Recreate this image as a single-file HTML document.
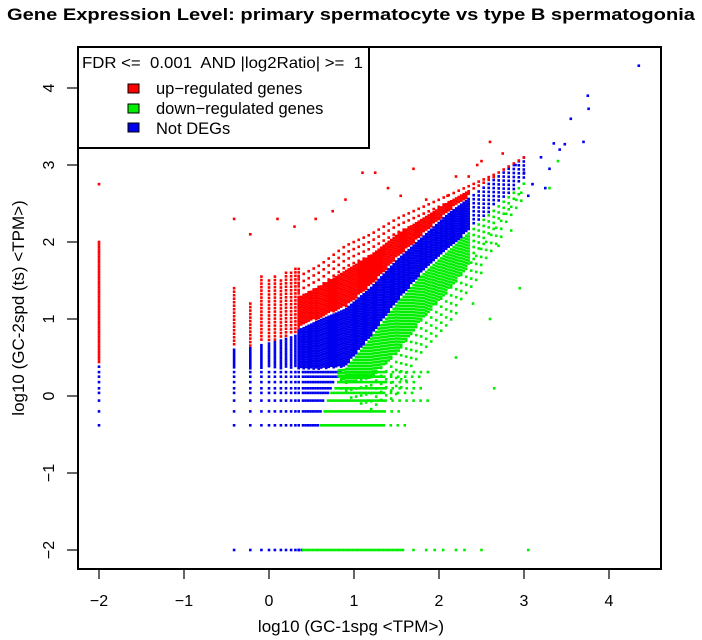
<!DOCTYPE html>
<html><head><meta charset="utf-8">
<style>
html,body{margin:0;padding:0;background:#fff;}
svg{display:block;font-family:"Liberation Sans",Arial,sans-serif;}
</style></head>
<body>
<svg id="chart" width="702" height="640" viewBox="0 0 702 640">
  <text x="351" y="20" text-anchor="middle" font-size="16.5" font-weight="bold" textLength="688" lengthAdjust="spacingAndGlyphs">Gene Expression Level: primary spermatocyte vs type B spermatogonia</text>
  <g id="marks"></g>
  <g id="axes"></g>
  <rect x="78" y="47" width="583" height="522" fill="none" stroke="#000" stroke-width="2"/>
  <g>
    <rect x="78" y="47" width="291" height="101" fill="#fff" stroke="#000" stroke-width="2"/>
    <text x="82" y="68" font-size="16" xml:space="preserve" textLength="281" lengthAdjust="spacingAndGlyphs">FDR &lt;=  0.001  AND |log2Ratio| &gt;=  1</text>
    <rect x="128" y="84" width="11" height="9" fill="#ff0000" stroke="#000"/>
    <text x="156" y="94" font-size="16.5">up−regulated genes</text>
    <rect x="128" y="104" width="11" height="9" fill="#00ee00" stroke="#000"/>
    <text x="156" y="114" font-size="16.5">down−regulated genes</text>
    <rect x="128" y="123" width="11" height="9" fill="#0000ee" stroke="#000"/>
    <text x="156" y="134" font-size="16.5">Not DEGs</text>
  </g>
  <text x="351" y="632" text-anchor="middle" font-size="17">log10 (GC-1spg &lt;TPM&gt;)</text>
  <text transform="translate(24,308) rotate(-90)" text-anchor="middle" font-size="17">log10 (GC-2spd (ts) &lt;TPM&gt;)</text>
</svg>
<script>
const xTicks = [-2,-1,0,1,2,3,4];
const yTicks = [-2,-1,0,1,2,3,4];
// discrete low-x columns
const colX = [-2,-0.41,-0.22,-0.09,0,0.07,0.14,0.2,0.26,0.31,0.35];
const colSplit = [0.38,0.6,0.62,0.66,0.68,0.7,0.72,0.74,0.76,0.78,0.8];
const colTop = [2.0,1.4,1.2,1.55,1.5,1.55,1.5,1.6,1.6,1.65,1.65];
// discrete low-y rows
const rowY = [-0.38,-0.2,-0.06,0.04,0.1,0.18,0.25,0.31];
const rowBlueEnd = [0.58,0.62,0.66,0.7,0.75,0.78,0.82,0.87];
const rowGreenEnd = [1.6,1.55,1.9,1.7,1.8,1.75,1.8,1.9];
// y = -2 row
const bottomRowY = -2;
const bottomBlueStart = -0.4, bottomGreenStart = 0.4, bottomGreenEnd = 1.6;
// main band
const bandX = [0.35,0.6,0.9,1.2,1.5,1.8,2.1,2.4,2.7,3.0];
const blueHigh = [0.85,0.98,1.12,1.4,1.75,2.05,2.35,2.6,2.85,3.1];
const blueLow = [0.35,0.35,0.38,0.78,1.22,1.6,1.9,2.2,2.5,2.8];
const redHigh = [1.55,1.7,1.95,2.1,2.3,2.45,2.6,2.75,2.9,3.1];
const greenLow = [0.35,0.35,0.0,-0.2,0.0,0.5,0.9,1.4,2.0,2.6];
// scattered outliers
const redX = [-2,0.1,-0.41,-0.22,0.3,0.55,0.9,1.1,1.25,1.55,1.7,1.85,2.0,2.1,2.2,2.35,2.45,2.6,2.5,2.75,0.75,1.4];
const redY = [2.75,2.3,2.3,2.1,2.2,2.3,2.55,2.9,2.9,2.6,2.95,2.55,2.3,2.6,2.85,2.85,3.0,3.3,3.05,3.15,2.4,2.7];
const greenX = [3.4,3.1,2.85,3.3,2.7,2.95,2.6,2.65,2.2,2.4,3.05];
const greenY = [3.05,2.75,2.15,2.7,1.95,1.4,1.0,0.1,0.5,1.2,-2];
const blueX = [4.35,3.75,3.76,3.55,3.35,3.42,3.48,3.7,3.3,3.1,3.2,3.0,2.9,3.25,3.05];
const blueY = [4.29,3.9,3.73,3.6,3.28,3.2,3.27,3.3,2.95,2.75,3.1,2.9,3.0,2.7,2.6];
const bottomGreenSparseX = [1.7,1.85,1.95,2.05,2.2,2.3,2.5];

const NS = "http://www.w3.org/2000/svg";
const sx = x => 269 + 85 * x;
const sy = y => 396 - 77 * y;
const ix = px => (px - 269) / 85;
const marks = document.getElementById('marks');
const axes = document.getElementById('axes');
const COL = {r:'#ff0000', g:'#00ee00', b:'#0000ee'};
function interp(xs, ys, x){
  if (x <= xs[0]) return ys[0];
  for (let i=1;i<xs.length;i++){ if (x <= xs[i]){ const t=(x-xs[i-1])/(xs[i]-xs[i-1]); return ys[i-1]+t*(ys[i]-ys[i-1]); } }
  return ys[ys.length-1];
}
function dotPx(px, py, c){
  const r = document.createElementNS(NS,'rect');
  r.setAttribute('x', (px-1.3).toFixed(1)); r.setAttribute('y', (py-1.3).toFixed(1));
  r.setAttribute('width', 2.6); r.setAttribute('height', 2.6); r.setAttribute('fill', COL[c]);
  
  
  marks.appendChild(r);
}
function dot(x, y, c){ dotPx(sx(x), sy(y), c); }
function vfill(px, y0, y1, c, step){
  for (let py = sy(y1); py <= sy(y0); py += step) dotPx(px, py, c);
}
// columns
colX.forEach((x,i)=>{
  const px = sx(x);
  rowY.forEach(y=>{ if (y < colSplit[i]) dotPx(px, sy(y), 'b'); });
  vfill(px, 0.36, colSplit[i], 'b', 2.5);
  vfill(px, colSplit[i]+0.03, colTop[i], 'r', i===0?2.5:3.5);
});
// rows
rowY.forEach((y,i)=>{
  const py = sy(y);
  for (let px = sx(0.4); px <= sx(rowBlueEnd[i]); px += 2.5) dotPx(px, py, 'b');
  for (let px = sx(rowBlueEnd[i])+3; px <= sx(rowGreenEnd[i]); px += (ix(px) > 1.35 ? 7 : 2.5)) dotPx(px, py, 'g');
});
// bottom row
colX.slice(1).forEach(x=>dot(x, bottomRowY, 'b'));
for (let px = sx(bottomBlueStart+0.75); px < sx(bottomGreenStart); px += 3) dotPx(px, sy(bottomRowY), 'b');
for (let px = sx(bottomGreenStart); px <= sx(bottomGreenEnd); px += 2.5) dotPx(px, sy(bottomRowY), 'g');
bottomGreenSparseX.forEach(x=>dot(x, bottomRowY, 'g'));
// main band
for (let px = sx(bandX[0]); px <= sx(bandX[bandX.length-1]); px += 2.5){
  const x = ix(px);
  const bh = interp(bandX, blueHigh, x), bl = interp(bandX, blueLow, x);
  const rh = interp(bandX, redHigh, x), gl = interp(bandX, greenLow, x);
  const k = Math.round((px - sx(bandX[0]))/2.5);
  const sparse = x > 2.35;
  if (!sparse || k % 2 === 0) vfill(px, bl, bh, 'b', sparse ? 4 : 2.5);
  const rMid = bh + (rh - bh) * 0.6;
  if (!sparse || k % 2 === 0) vfill(px, bh + 0.04, rMid, 'r', sparse ? 5 : 2.5);
  if (k % 2 === 0) vfill(px, rMid, rh, 'r', 7);
  const gMid = bl - (bl - gl) * 0.55;
  if (x > 0.8) {
    if (!sparse || k % 2 === 0) vfill(px, gMid, bl - 0.04, 'g', sparse ? 6 : 3);
    if (k % 2 === 1) vfill(px, gl, gMid, 'g', 8);
  }
}
redX.forEach((x,i)=>dot(x, redY[i], 'r'));
greenX.forEach((x,i)=>dot(x, greenY[i], 'g'));
blueX.forEach((x,i)=>dot(x, blueY[i], 'b'));
// axes
xTicks.forEach(v=>{
  const l = document.createElementNS(NS,'line');
  l.setAttribute('x1', sx(v)); l.setAttribute('x2', sx(v)); l.setAttribute('y1', 569); l.setAttribute('y2', 579);
  l.setAttribute('stroke', '#000'); l.setAttribute('stroke-width', 1.2);
  
  
  axes.appendChild(l);
  const t = document.createElementNS(NS,'text');
  t.setAttribute('x', sx(v)); t.setAttribute('y', 606); t.setAttribute('text-anchor', 'middle'); t.setAttribute('font-size', 16);
  t.textContent = v < 0 ? '−' + Math.abs(v) : String(v);
  
  
  axes.appendChild(t);
});
yTicks.forEach(v=>{
  const l = document.createElementNS(NS,'line');
  l.setAttribute('x1', 67); l.setAttribute('x2', 78); l.setAttribute('y1', sy(v)); l.setAttribute('y2', sy(v));
  l.setAttribute('stroke', '#000'); l.setAttribute('stroke-width', 1.2);
  
  
  axes.appendChild(l);
  const t = document.createElementNS(NS,'text');
  t.setAttribute('transform', 'translate(54,' + sy(v) + ') rotate(-90)');
  t.setAttribute('text-anchor', 'middle'); t.setAttribute('font-size', 16);
  t.textContent = v < 0 ? '−' + Math.abs(v) : String(v);
  
  
  axes.appendChild(t);
});
</script>
</body></html>
